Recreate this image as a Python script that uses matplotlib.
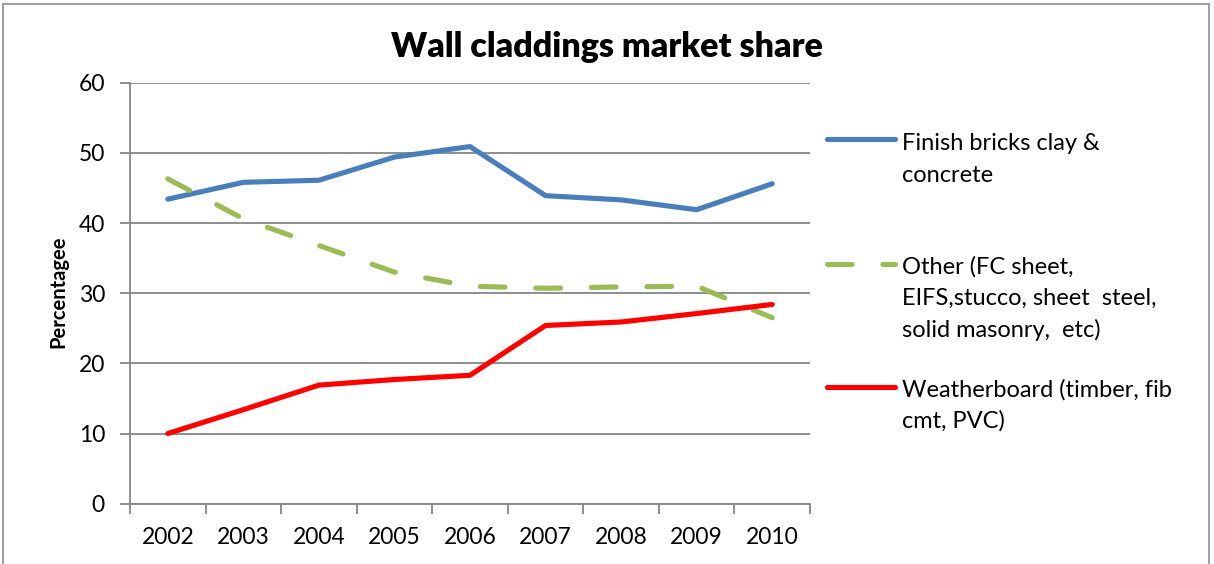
import numpy as np
import matplotlib.pyplot as plt
from matplotlib.lines import Line2D
from matplotlib.patches import Rectangle

years = ['2002', '2003', '2004', '2005', '2006', '2007', '2008', '2009', '2010']
bricks = [43.4, 45.8, 46.1, 49.4, 50.9, 43.9, 43.3, 41.9, 45.6]
other = [46.3, 40.6, 36.8, 33.0, 31.0, 30.7, 30.9, 31.0, 26.5]
weatherboard = [10.0, 13.4, 16.9, 17.7, 18.3, 25.4, 25.9, 27.1, 28.4]

labels = [
    ['Finish bricks clay &', 'concrete'],
    ['Other (FC sheet,', 'EIFS,stucco, sheet  steel,', 'solid masonry,  etc)'],
    ['Weatherboard (timber, fib', 'cmt, PVC)'],
]
colors = ['#4A7EBB', '#9BBB59', '#FF0000']

plt.rcParams['font.family'] = ['Lato', 'DejaVu Sans']

W, H = 1214, 564
fig = plt.figure(figsize=(W / 100, H / 100), dpi=100)
ax = fig.add_axes([130 / W, 1 - 503.7 / H, 680 / W, 421 / H])

x = np.arange(len(years)) + 0.5
lw = 3.7
dash = (0, (4.8, 6.0))
ax.plot(x, bricks, color=colors[0], lw=lw, solid_capstyle='round', solid_joinstyle='round')
ax.plot(x, other, color=colors[1], lw=lw, linestyle=dash,
        dash_capstyle='round', dash_joinstyle='round')
ax.plot(x, weatherboard, color=colors[2], lw=lw, solid_capstyle='round', solid_joinstyle='round')

grey = '#868686'
ax.set_xlim(0, 9)
ax.set_ylim(0, 60)
ax.set_yticks(range(0, 61, 10))
ax.yaxis.grid(True, color=grey, lw=1.3)
ax.set_axisbelow(True)
ax.set_xticks(x)
ax.set_xticklabels(years)
ax.set_xticks(np.arange(10), minor=True)
ax.tick_params(axis='x', which='major', length=0, pad=17, labelsize=16.5)
ax.tick_params(axis='x', which='minor', length=7, width=1.3, color=grey, direction='out')
ax.tick_params(axis='y', length=7, width=1.3, color=grey, pad=11, labelsize=16.5)
for s in ['top', 'right']:
    ax.spines[s].set_visible(False)
for s in ['left', 'bottom']:
    ax.spines[s].set_color(grey)
    ax.spines[s].set_linewidth(1.3)

fig.text(58 / W, 1 - 292 / H, 'Percentagee', rotation=90, ha='center', va='center',
         fontsize=14.5, fontweight='bold')
fig.text(0.5, 1 - 47 / H, 'Wall claddings market share', ha='center', va='center',
         fontsize=24.5, fontweight='heavy')

# legend drawn by hand so handles line up with the first text line
handle_y = [139, 264, 387]
base_y = [[150, 182], [274, 305, 337], [397, 428]]
styles = ['-', dash, '-']
for i in range(3):
    ln = Line2D([827 / W, 895 / W], [1 - handle_y[i] / H] * 2, transform=fig.transFigure,
                color=colors[i], lw=lw, linestyle=styles[i],
                solid_capstyle='round', dash_capstyle='round')
    fig.add_artist(ln)
    for txt, by in zip(labels[i], base_y[i]):
        fig.text(902 / W, 1 - by / H, txt, ha='left', va='baseline', fontsize=17)

fig.add_artist(Rectangle((3 / W, -0.05), 1206 / W, 1.05 - 4 / H, transform=fig.transFigure,
                         fill=False, edgecolor='#A0A0A0', lw=1.5))

fig.savefig('out.png', dpi=100)
